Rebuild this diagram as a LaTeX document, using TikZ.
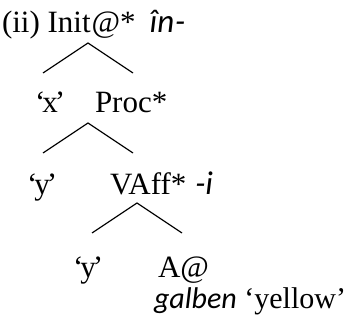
\documentclass[tikz,border=0pt]{standalone}
\usepackage{fontspec}
\setmainfont{Liberation Serif}
\newfontfamily\sansit{Carlito}
\newcommand{\ital}[1]{{\sansit\itshape #1}}
\newcommand{\qt}[1]{‘\kern-3pt#1\kern-3pt’}
\begin{document}
\begin{tikzpicture}[x=1pt,y=-1pt,
  lbl/.style={anchor=base west,inner sep=0pt,outer sep=0pt,font=\fontsize{31}{32}\selectfont},
  gloss/.style={anchor=base west,inner sep=0pt,outer sep=0pt,font=\fontsize{30}{31}\selectfont},
  branch/.style={line width=1.2pt}]
\useasboundingbox (0,0) rectangle (350,320);
\node[lbl] (init) at (2,33) {(ii) Init\kern1pt@*\hspace{14pt}{\fontsize{33}{34}\selectfont\ital{în\kern1pt-}}};
\node[lbl] (x) at (35,113) {\qt{x}};
\node[lbl] (proc) at (95,113) {Proc*};
\node[lbl] (y1) at (27,195) {\qt{y}};
\node[lbl] (vaff) at (110,195) {VAff*\hspace{9pt}{\fontsize{33}{34}\selectfont\ital{-i}}};
\node[lbl] (y2) at (73,277) {\qt{y}};
\node[lbl] (a) at (158,277) {A@};
\node[gloss] (gl) at (154,308) {\ital{galben} ‘yellow’};
\coordinate (t1) at (88,43);
\coordinate (l1) at (43,73);
\coordinate (r1) at (133,73);
\coordinate (t2) at (88,123);
\coordinate (l2) at (43,153);
\coordinate (r2) at (133,153);
\coordinate (t3) at (137,203);
\coordinate (l3) at (92,233);
\coordinate (r3) at (182,233);
\draw[branch] (l1) -- (t1) -- (r1);
\draw[branch] (l2) -- (t2) -- (r2);
\draw[branch] (l3) -- (t3) -- (r3);
\end{tikzpicture}
\end{document}
